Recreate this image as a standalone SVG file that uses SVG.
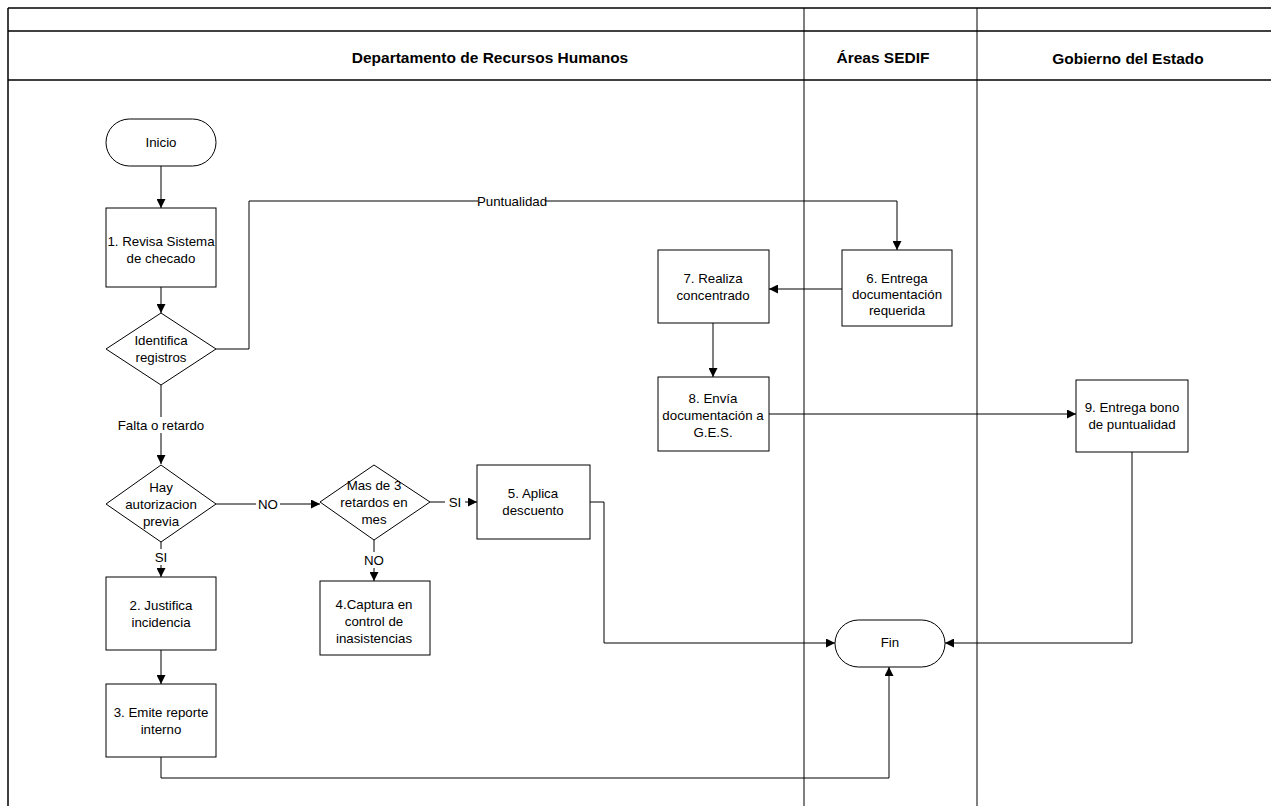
<svg xmlns="http://www.w3.org/2000/svg" width="1271" height="806" viewBox="0 0 1271 806">
<defs>
<marker id="arr" viewBox="0 0 10 10" refX="10" refY="5" markerWidth="9" markerHeight="9" markerUnits="userSpaceOnUse" orient="auto">
<path d="M0,0 L10,5 L0,10 z" fill="#000"/>
</marker>
</defs>
<style>
.frame{fill:none;stroke:#000;stroke-width:1.5}
.lane{fill:none;stroke:#000;stroke-width:1}
.node{fill:#fff;stroke:#000;stroke-width:1}
.edge{fill:none;stroke:#000;stroke-width:1}
.t{font-family:"Liberation Sans",Arial,sans-serif;font-size:13.3px;fill:#000;text-anchor:middle}
.h{font-family:"Liberation Sans",Arial,sans-serif;font-size:15.5px;font-weight:bold;fill:#000;text-anchor:middle}
.lbl{font-family:"Liberation Sans",Arial,sans-serif;font-size:13.3px;fill:#000;text-anchor:middle}
</style>
<rect width="1271" height="806" fill="#fff"/>
<g id="frame">
<line class="frame" x1="8" y1="8" x2="1271" y2="8"/>
<line class="frame" x1="8" y1="31" x2="1271" y2="31"/>
<line class="frame" x1="8" y1="80" x2="1271" y2="80"/>
<line class="frame" x1="8" y1="8" x2="8" y2="806"/>
<line class="lane" x1="804" y1="8" x2="804" y2="806"/>
<line class="lane" x1="977" y1="8" x2="977" y2="806"/>
<text class="h" x="490" y="63">Departamento de Recursos Humanos</text>
<text class="h" x="883" y="63">Áreas SEDIF</text>
<text class="h" x="1128" y="64">Gobierno del Estado</text>
</g>
<g id="connectors">
<line class="edge" x1="161" y1="166" x2="161" y2="208" marker-end="url(#arr)"/>
<line class="edge" x1="161" y1="287" x2="161" y2="313" marker-end="url(#arr)"/>
<polyline class="edge" points="216,349 249,349 249,201 897,201 897,250" marker-end="url(#arr)"/>
<line class="edge" x1="161" y1="385" x2="161" y2="464" marker-end="url(#arr)"/>
<line class="edge" x1="216" y1="504" x2="320" y2="504" marker-end="url(#arr)"/>
<line class="edge" x1="430" y1="502" x2="477" y2="502" marker-end="url(#arr)"/>
<line class="edge" x1="374" y1="540" x2="374" y2="581" marker-end="url(#arr)"/>
<line class="edge" x1="161" y1="542" x2="161" y2="577" marker-end="url(#arr)"/>
<line class="edge" x1="161" y1="650" x2="161" y2="684" marker-end="url(#arr)"/>
<polyline class="edge" points="161,757 161,778 889,778 889,667" marker-end="url(#arr)"/>
<polyline class="edge" points="590,502 604,502 604,643 835,643" marker-end="url(#arr)"/>
<line class="edge" x1="842" y1="289" x2="769" y2="289" marker-end="url(#arr)"/>
<line class="edge" x1="713" y1="323" x2="713" y2="377" marker-end="url(#arr)"/>
<line class="edge" x1="769" y1="414" x2="1076" y2="414" marker-end="url(#arr)"/>
<polyline class="edge" points="1132,452 1132,643 945,643" marker-end="url(#arr)"/>
<rect x="478" y="194" width="68" height="15" fill="#fff"/>
<text class="lbl" x="512" y="206">Puntualidad</text>
<rect x="115" y="417" width="92" height="16" fill="#fff"/>
<text class="lbl" x="161" y="430">Falta o retardo</text>
<rect x="256" y="496" width="24" height="16" fill="#fff"/>
<text class="lbl" x="268" y="509">NO</text>
<rect x="445" y="494" width="20" height="16" fill="#fff"/>
<text class="lbl" x="455" y="507">SI</text>
<rect x="364" y="552" width="22" height="16" fill="#fff"/>
<text class="lbl" x="374" y="565">NO</text>
<rect x="152" y="549" width="18" height="16" fill="#fff"/>
<text class="lbl" x="161" y="562">SI</text>
</g>
<g id="inicio">
<rect class="node" x="106" y="119" width="110" height="47" rx="23.5"/>
<text class="t" x="161" y="147">Inicio</text>
</g>
<g id="n1">
<rect class="node" x="106" y="208" width="110" height="79"/>
<text class="t" x="161" y="246">1. Revisa Sistema</text>
<text class="t" x="161" y="263">de checado</text>
</g>
<g id="d1">
<polygon class="node" points="161,313 216,349 161,385 106,349"/>
<text class="t" x="161" y="345">Identifica</text>
<text class="t" x="161" y="362">registros</text>
</g>
<g id="d2">
<polygon class="node" points="161,465 216,504 161,542 106,504"/>
<text class="t" x="161" y="492">Hay</text>
<text class="t" x="161" y="509">autorizacion</text>
<text class="t" x="161" y="526">previa</text>
</g>
<g id="d3">
<polygon class="node" points="374,465 430,502 374,540 320,502"/>
<text class="t" x="374" y="490">Mas de 3</text>
<text class="t" x="374" y="507">retardos en</text>
<text class="t" x="374" y="524">mes</text>
</g>
<g id="n2">
<rect class="node" x="106" y="577" width="110" height="73"/>
<text class="t" x="161" y="610">2. Justifica</text>
<text class="t" x="161" y="627">incidencia</text>
</g>
<g id="n3">
<rect class="node" x="106" y="684" width="110" height="73"/>
<text class="t" x="161" y="717">3. Emite reporte</text>
<text class="t" x="161" y="734">interno</text>
</g>
<g id="n4">
<rect class="node" x="320" y="581" width="110" height="74"/>
<text class="t" x="374" y="609">4.Captura  en</text>
<text class="t" x="374" y="626">control  de</text>
<text class="t" x="374" y="643">inasistencias</text>
</g>
<g id="n5">
<rect class="node" x="477" y="465" width="113" height="74"/>
<text class="t" x="533" y="498">5. Aplica</text>
<text class="t" x="533" y="515">descuento</text>
</g>
<g id="n6">
<rect class="node" x="842" y="250" width="110" height="76"/>
<text class="t" x="897" y="283">6. Entrega</text>
<text class="t" x="897" y="299">documentación</text>
<text class="t" x="897" y="315">requerida</text>
</g>
<g id="n7">
<rect class="node" x="658" y="250" width="111" height="73"/>
<text class="t" x="713" y="283">7. Realiza</text>
<text class="t" x="713" y="300">concentrado</text>
</g>
<g id="n8">
<rect class="node" x="658" y="377" width="111" height="74"/>
<text class="t" x="713" y="403">8. Envía</text>
<text class="t" x="713" y="420">documentación a</text>
<text class="t" x="713" y="437">G.E.S.</text>
</g>
<g id="n9">
<rect class="node" x="1076" y="380" width="112" height="72"/>
<text class="t" x="1132" y="412">9. Entrega bono</text>
<text class="t" x="1132" y="429">de puntualidad</text>
</g>
<g id="fin">
<rect class="node" x="835" y="620" width="110" height="47" rx="23.5"/>
<text class="t" x="890" y="647">Fin</text>
</g>
</svg>
